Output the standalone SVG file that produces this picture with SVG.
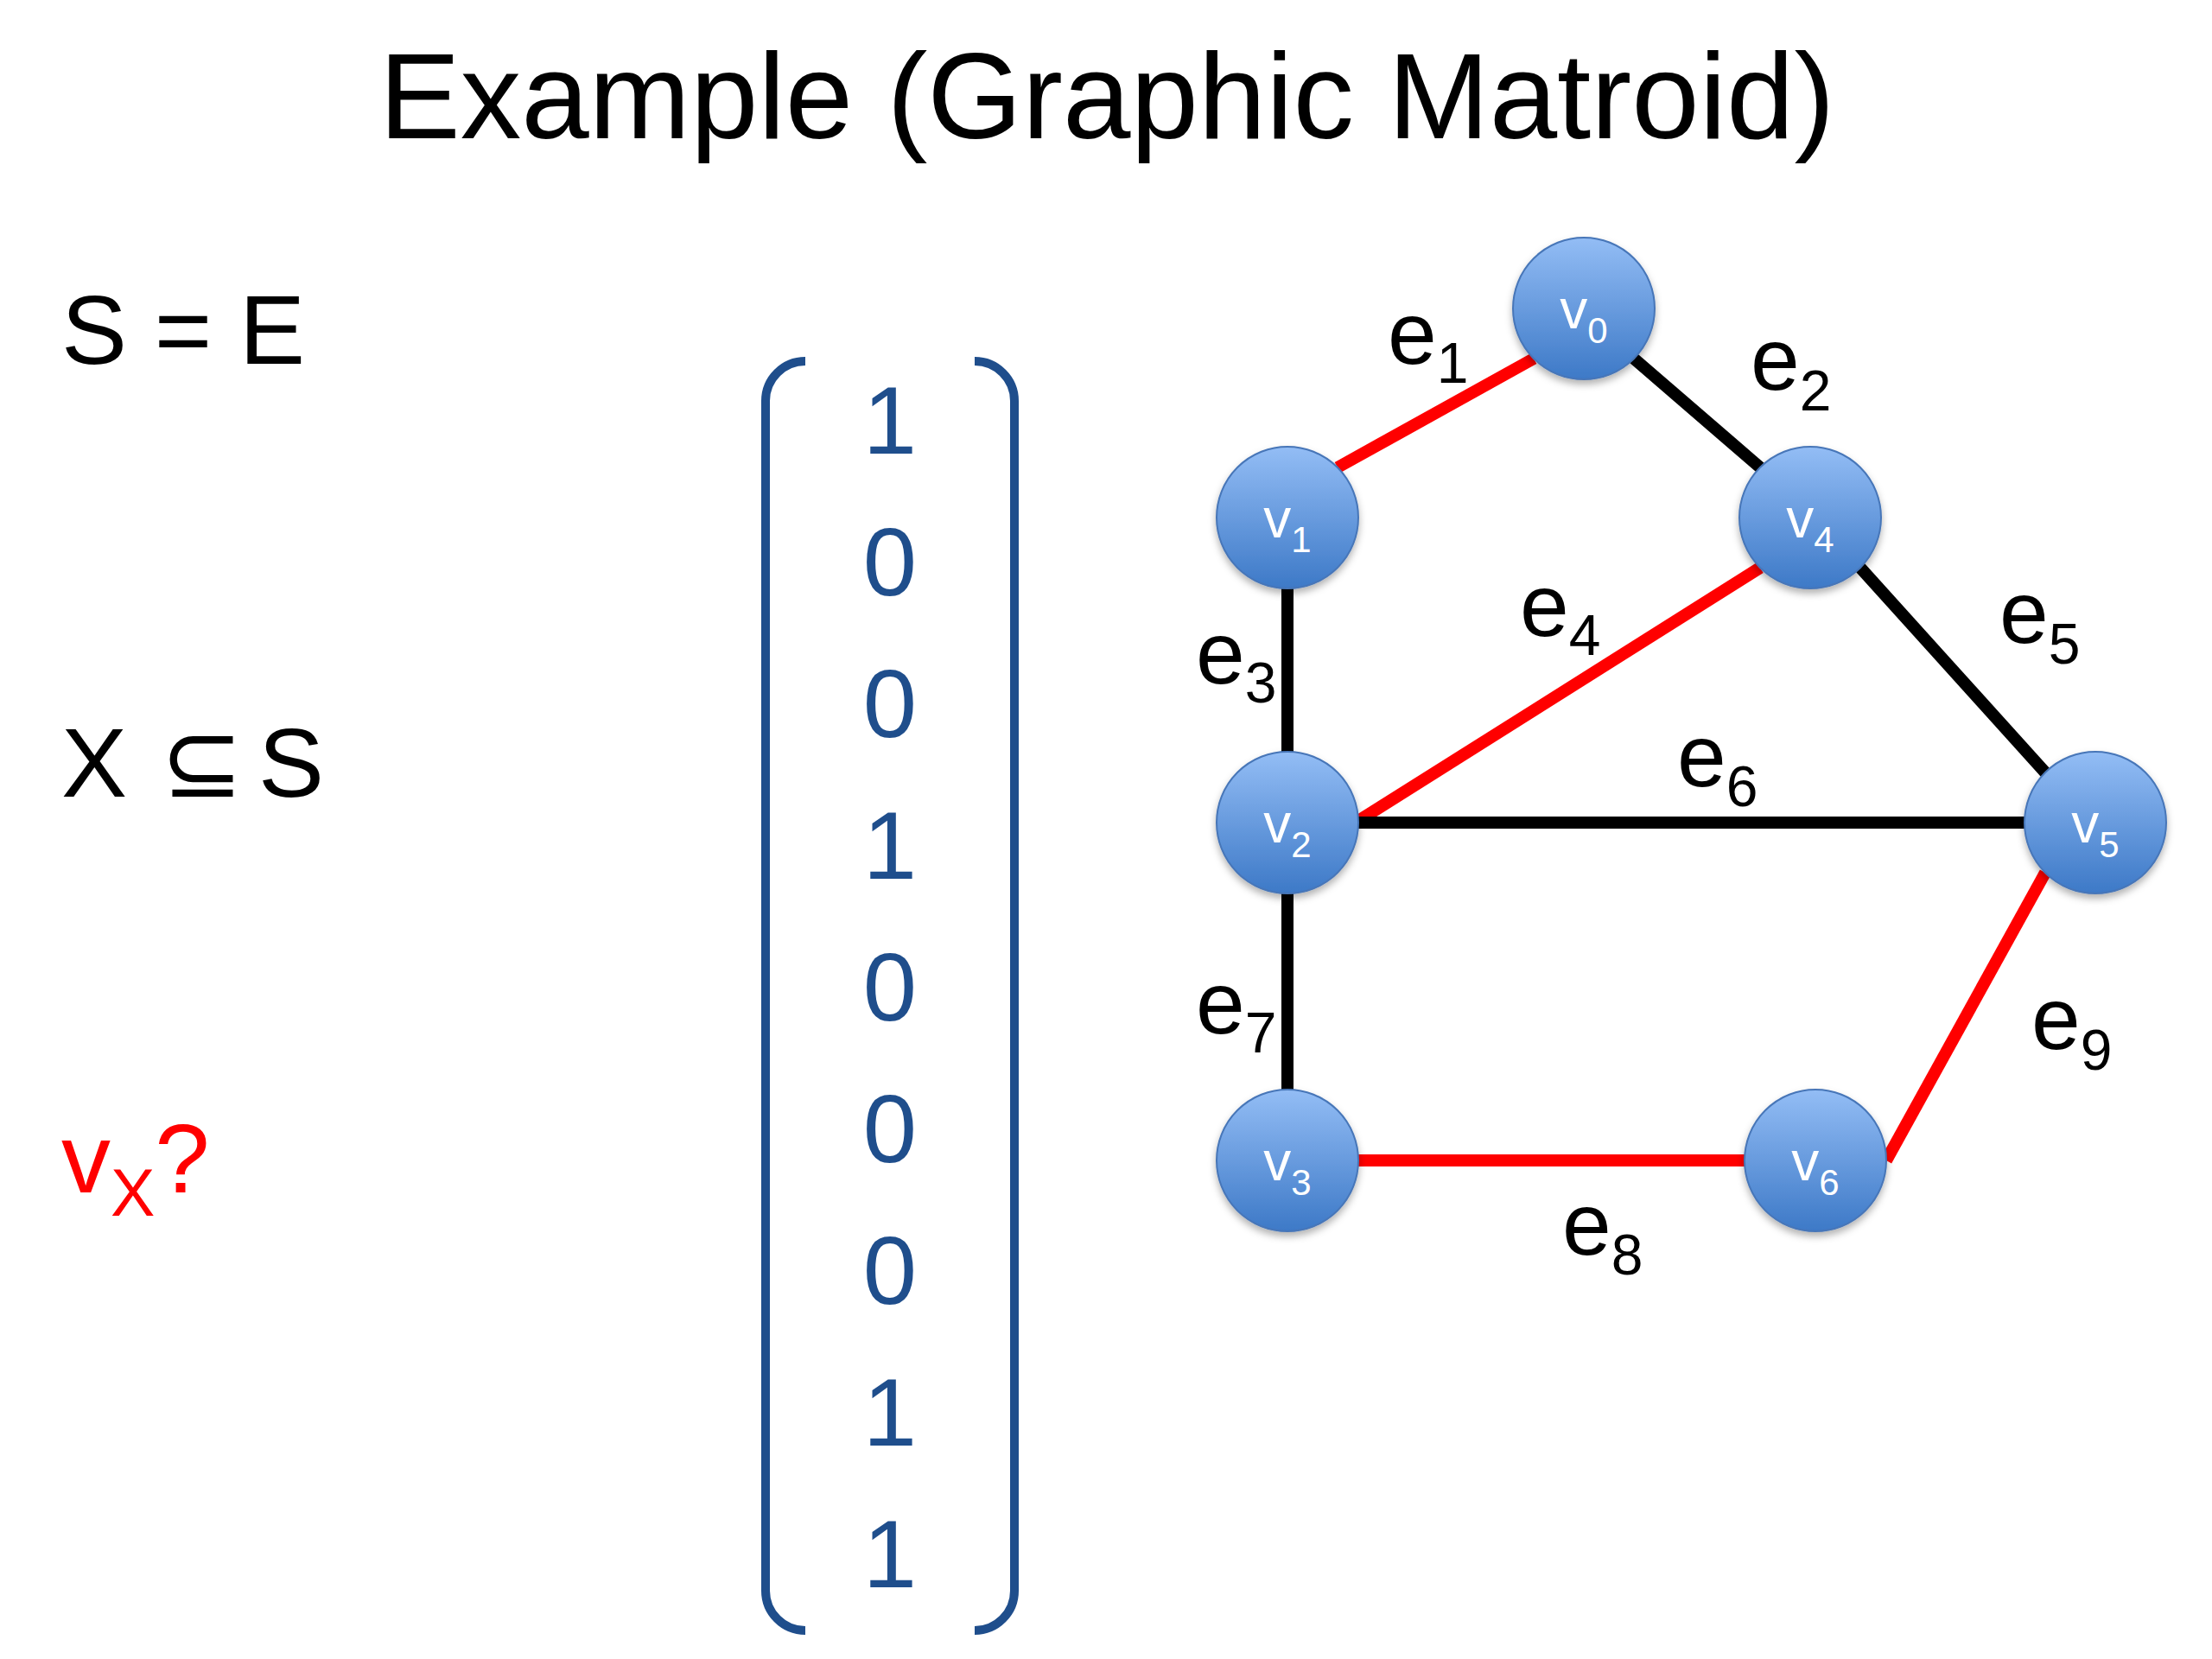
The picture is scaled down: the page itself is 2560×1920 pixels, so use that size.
<svg xmlns="http://www.w3.org/2000/svg" width="2560" height="1920" viewBox="0 0 2560 1920">
<defs>
<linearGradient id="nodeGrad" x1="0" y1="0" x2="0" y2="1">
<stop offset="0" stop-color="#93bdf5"/>
<stop offset="1" stop-color="#3d79c7"/>
</linearGradient>
<filter id="shadow" x="-30%" y="-30%" width="160%" height="170%">
<feDropShadow dx="0" dy="5" stdDeviation="4" flood-color="#000" flood-opacity="0.3"/>
</filter>
<style>
text{font-family:"Liberation Sans",Arial,"DejaVu Sans",sans-serif;}
.title{font-size:141px;fill:#000;}
.big{font-size:114px;fill:#000;}
.red{fill:#ff0000;}
.digit{font-size:112px;fill:#1f4e8c;text-anchor:middle;}
.bracket{fill:none;stroke:#1f4e8c;stroke-width:10;}
.edge{stroke-width:14;stroke-linecap:butt;}
.blk{stroke:#000;}
.rd{stroke:#ff0000;}
.node{fill:url(#nodeGrad);stroke:#4776b8;stroke-width:2;filter:url(#shadow);}
.nl{font-size:64px;fill:#fff;text-anchor:middle;}
.el{font-size:102px;fill:#000;}
</style>
</defs>
<rect width="2560" height="1920" fill="#fff"/>

<text class="title" x="1281" y="160" text-anchor="middle">Example (Graphic Matroid)</text>

<text class="big" x="71" y="421">S = E</text>
<text class="big" x="71" y="922">X <tspan x="186">⊆</tspan> <tspan x="299">S</tspan></text>
<text class="big red" x="71" y="1380">v<tspan font-size="77" dy="27">X</tspan><tspan dy="-27">?</tspan></text>

<g id="vector">
<path class="bracket" d="M932 418 A46 46 0 0 0 886 464 L886 1841 A46 46 0 0 0 932 1887"/>
<path class="bracket" d="M1128 418 A46 46 0 0 1 1174 464 L1174 1841 A46 46 0 0 1 1128 1887"/>
<text class="digit" x="1030" y="525">1</text>
<text class="digit" x="1030" y="689">0</text>
<text class="digit" x="1030" y="853">0</text>
<text class="digit" x="1030" y="1017">1</text>
<text class="digit" x="1030" y="1181">0</text>
<text class="digit" x="1030" y="1345">0</text>
<text class="digit" x="1030" y="1509">0</text>
<text class="digit" x="1030" y="1673">1</text>
<text class="digit" x="1030" y="1837">1</text>
</g>

<g id="connectors">
<line class="edge rd" x1="1548" y1="541" x2="1775" y2="415"/>
<line class="edge blk" x1="1891" y1="415" x2="2037" y2="541"/>
<line class="edge blk" x1="1490" y1="681" x2="1490" y2="870"/>
<line class="edge rd" x1="1572" y1="950" x2="2037" y2="657"/>
<line class="edge blk" x1="2153" y1="657" x2="2367" y2="894"/>
<line class="edge blk" x1="1572" y1="952" x2="2343" y2="952"/>
<line class="edge blk" x1="1490" y1="1034" x2="1490" y2="1261"/>
<line class="edge rd" x1="1572" y1="1343" x2="2019" y2="1343"/>
<line class="edge rd" x1="2183" y1="1343" x2="2367" y2="1010"/>
<text class="el" x="1606" y="421">e<tspan font-size="66" dy="22">1</tspan></text>
<text class="el" x="2026" y="451">e<tspan font-size="66" dy="24">2</tspan></text>
<text class="el" x="1384" y="791">e<tspan font-size="66" dy="22">3</tspan></text>
<text class="el" x="1759" y="736">e<tspan font-size="66" dy="22">4</tspan></text>
<text class="el" x="2314" y="744">e<tspan font-size="66" dy="24">5</tspan></text>
<text class="el" x="1941" y="910">e<tspan font-size="66" dy="23">6</tspan></text>
<text class="el" x="1384" y="1196">e<tspan font-size="66" dy="22">7</tspan></text>
<text class="el" x="1808" y="1452">e<tspan font-size="66" dy="23">8</tspan></text>
<text class="el" x="2351" y="1214">e<tspan font-size="66" dy="24">9</tspan></text>
</g>

<g id="v0"><circle class="node" cx="1833" cy="357" r="82"/><text class="nl" x="1833" y="380">v<tspan font-size="42" dy="17">0</tspan></text></g>
<g id="v1"><circle class="node" cx="1490" cy="599" r="82"/><text class="nl" x="1490" y="622">v<tspan font-size="42" dy="17">1</tspan></text></g>
<g id="v4"><circle class="node" cx="2095" cy="599" r="82"/><text class="nl" x="2095" y="622">v<tspan font-size="42" dy="17">4</tspan></text></g>
<g id="v2"><circle class="node" cx="1490" cy="952" r="82"/><text class="nl" x="1490" y="975">v<tspan font-size="42" dy="17">2</tspan></text></g>
<g id="v5"><circle class="node" cx="2425" cy="952" r="82"/><text class="nl" x="2425" y="975">v<tspan font-size="42" dy="17">5</tspan></text></g>
<g id="v3"><circle class="node" cx="1490" cy="1343" r="82"/><text class="nl" x="1490" y="1366">v<tspan font-size="42" dy="17">3</tspan></text></g>
<g id="v6"><circle class="node" cx="2101" cy="1343" r="82"/><text class="nl" x="2101" y="1366">v<tspan font-size="42" dy="17">6</tspan></text></g>
</svg>
